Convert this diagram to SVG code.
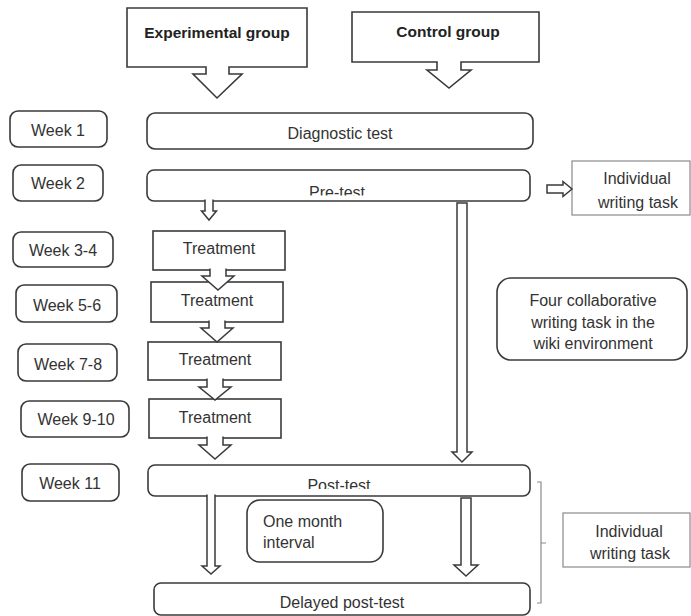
<svg xmlns="http://www.w3.org/2000/svg" width="691" height="616" viewBox="0 0 691 616">
<style>
.b{fill:#fff;stroke:#3a3a3a;stroke-width:1.6}
.g{fill:#fff;stroke:#8a8a8a;stroke-width:1.2}
.a{fill:#fff;stroke:#3a3a3a;stroke-width:1.5;stroke-linejoin:miter}
.t{font-family:"Liberation Sans",Arial,sans-serif;font-size:16px;fill:#333;text-anchor:middle}
.tb{font-family:"Liberation Sans",Arial,sans-serif;font-size:15.5px;font-weight:bold;fill:#222;text-anchor:middle}
.l{text-anchor:start}
</style>
<defs>
<clipPath id="cpPre"><rect x="147" y="160" width="383" height="35.5"/></clipPath>
<clipPath id="cpPost"><rect x="148" y="460" width="382" height="29"/></clipPath>
</defs>
<rect width="691" height="616" fill="#fff"/>

<g id="experimental">
<path class="b" d="M127,8 H307 V67 H229 V74 H242 L217,98 L193,74 H206 V67 H127 Z"/>
<text class="tb" x="217" y="38">Experimental group</text>
</g>
<g id="control">
<path class="b" d="M352,12 H539 V62 H461 V70 H471 L449,88 L427,70 H437 V62 H352 Z"/>
<text class="tb" x="448" y="37">Control group</text>
</g>

<g id="week1"><rect class="b" x="10" y="111" width="97" height="36" rx="8"/><text class="t" x="58" y="136">Week 1</text></g>
<g id="week2"><rect class="b" x="13" y="165" width="90" height="36" rx="8"/><text class="t" x="58" y="189">Week 2</text></g>
<g id="week34"><rect class="b" x="13" y="232" width="100" height="35" rx="8"/><text class="t" x="63" y="256">Week 3-4</text></g>
<g id="week56"><rect class="b" x="16" y="285" width="101" height="37" rx="8"/><text class="t" x="67" y="311">Week 5-6</text></g>
<g id="week78"><rect class="b" x="18" y="344" width="99" height="37" rx="8"/><text class="t" x="68" y="370">Week 7-8</text></g>
<g id="week910"><rect class="b" x="21" y="401" width="108" height="36" rx="8"/><text class="t" x="76" y="425">Week 9-10</text></g>
<g id="week11"><rect class="b" x="22" y="464" width="97" height="37" rx="8"/><text class="t" x="70" y="489">Week 11</text></g>

<g id="diagnostic"><rect class="b" x="147" y="113" width="386" height="36" rx="8"/><text class="t" x="340" y="139">Diagnostic test</text></g>
<g id="pretest"><rect class="b" x="147" y="170" width="383" height="31" rx="7"/><text class="t" x="337" y="198" clip-path="url(#cpPre)">Pre-test</text></g>

<g id="treatment1"><rect class="b" x="153" y="231" width="132" height="39"/><text class="t" x="219" y="254">Treatment</text></g>
<g id="treatment2"><rect class="b" x="151" y="282" width="132" height="40"/><text class="t" x="217" y="306">Treatment</text></g>
<g id="treatment3"><rect class="b" x="148" y="342" width="133" height="38"/><text class="t" x="215" y="365">Treatment</text></g>
<g id="treatment4"><rect class="b" x="149" y="399" width="132" height="39"/><text class="t" x="215" y="423">Treatment</text></g>

<g id="posttest"><rect class="b" x="148" y="465" width="382" height="31" rx="7"/><text class="t" x="339" y="491" clip-path="url(#cpPost)">Post-test</text></g>
<g id="interval"><rect class="b" x="247" y="500" width="136" height="62" rx="13"/><text class="t l" x="263" y="527">One month</text><text class="t l" x="263" y="548">interval</text></g>
<g id="delayed"><rect class="b" x="154" y="583" width="376" height="32" rx="7"/><text class="t" x="342" y="608">Delayed post-test</text></g>

<g id="individual1"><rect class="g" x="572" y="161" width="118" height="54"/><text class="t" x="637" y="184">Individual</text><text class="t" x="638" y="208">writing task</text></g>
<g id="collaborative"><rect class="b" x="497" y="278" width="190" height="82" rx="14"/><text class="t" x="593" y="306">Four collaborative</text><text class="t" x="593" y="328">writing task in the</text><text class="t" x="593" y="349">wiki environment</text></g>
<g id="individual2"><rect class="g" x="563" y="513" width="127" height="54"/><text class="t" x="629" y="537">Individual</text><text class="t" x="630" y="559">writing task</text></g>

<g id="connectors">
<path class="a" d="M205,199.5 V211 H201.5 L209,220 L216.5,211 H213 V199.5"/>
<path class="a" d="M547,185 H563 V181.5 L572,189 L563,196.5 V193 H547 Z"/>
<path class="a" d="M457,203 V452 H452 L462,462 L472,452 H467 V203 Z"/>
<path class="a" d="M210,268.5 V276 H202 L218,290 L234,276 H226 V268.5"/>
<path class="a" d="M209,320.5 V328 H201 L217,342 L233,328 H225 V320.5"/>
<path class="a" d="M207,378.5 V387 H199 L215,400 L231,387 H223 V378.5"/>
<path class="a" d="M207,436.5 V445 H199 L215,459 L231,445 H223 V436.5"/>
<path class="a" d="M207,494.5 V566 H202 L211,574 L220,566 H215 V494.5"/>
<path class="a" d="M461,498 V565 H454 L466,576 L478,565 H471 V498 Z"/>
<path d="M537,482 H541 V603 H537 M541,543 H546" fill="none" stroke="#8a8a8a" stroke-width="1.2"/>
</g>
</svg>
